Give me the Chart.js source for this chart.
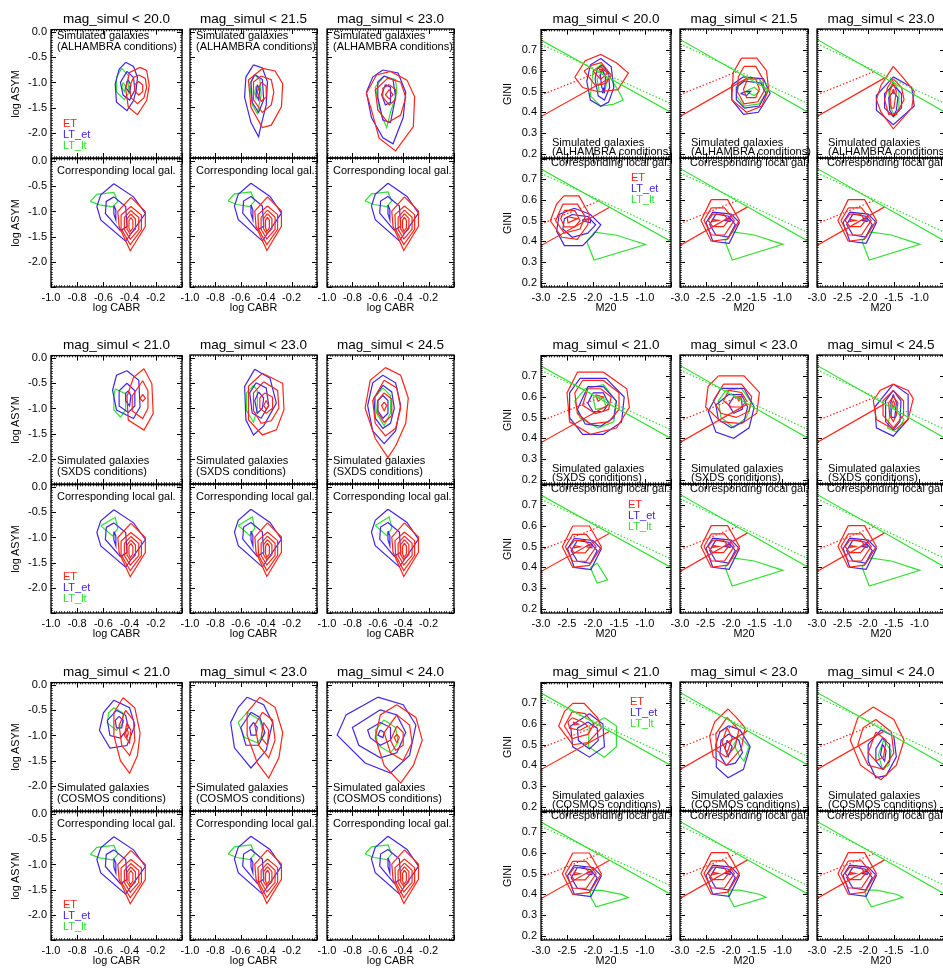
<!DOCTYPE html>
<html>
<head>
<meta charset="utf-8">
<script src="https://cdn.jsdelivr.net/npm/chart.js@4.4.1/dist/chart.umd.min.js"></script>
<style>
  body { margin: 0; background: #fff; width: 943px; height: 970px; overflow: hidden; position: relative;
         font-family: "Liberation Sans", Arial, sans-serif; }
  canvas { position: absolute; }
  .t { position: absolute; white-space: nowrap; color: #000; font-size: 11px; line-height: 12px; }
  .ttl { position: absolute; white-space: nowrap; color: #000; font-size: 13.5px; line-height: 16px; transform: translateX(-50%); }
  .ax { position: absolute; white-space: nowrap; color: #000; font-size: 10.8px; line-height: 12px; transform: translate(-50%, -50%); }
  .axr { position: absolute; white-space: nowrap; color: #000; font-size: 10.8px; line-height: 12px; transform: translate(-50%, -50%) rotate(-90deg); }
</style>
</head>
<body>
<script>
// ---- labels / axes ----
const magTitles = [
  ['mag_simul < 20.0', 'mag_simul < 21.5', 'mag_simul < 23.0'],
  ['mag_simul < 21.0', 'mag_simul < 23.0', 'mag_simul < 24.5'],
  ['mag_simul < 21.0', 'mag_simul < 23.0', 'mag_simul < 24.0']
];
const surveys = ['ALHAMBRA', 'SXDS', 'COSMOS'];
const classNames = ['ET', 'LT_et', 'LT_lt'];

const cabrRange = [-1.0, 0.0];
const asymRange = [-2.5, 0.05];
const m20Range = [-3.0, -0.5];
const giniRange = [0.18, 0.80];
const cabrTicks = [-1.0, -0.8, -0.6, -0.4, -0.2];
const asymTicks = [0.0, -0.5, -1.0, -1.5, -2.0];
const m20Ticks = [-3.0, -2.5, -2.0, -1.5, -1.0];
const giniTicks = [0.2, 0.3, 0.4, 0.5, 0.6, 0.7];

// classification lines in the M20-Gini plane (endpoints)
const mergerLine = [[-3.0, 0.75], [-0.5, 0.40]];
const mergerLineOld = [[-3.0, 0.729], [-0.5, 0.4415]];
const typeLine = [[-3.0, 0.38], [-1.68, 0.565]];
const typeLineOld = [[-3.0, 0.484], [-1.86, 0.598]];

// ---- contours: flat [x0,y0,x1,y1,...] polygons ----
// log CABR / log ASYM, simulated galaxies
const asymA1 = {
  ET: [
    [-0.32,-0.70, -0.27,-0.76, -0.25,-1.06, -0.27,-1.36, -0.34,-1.64, -0.41,-1.49, -0.43,-1.12, -0.40,-0.80],
    [-0.33,-0.85, -0.28,-0.92, -0.27,-1.10, -0.29,-1.30, -0.34,-1.42, -0.39,-1.30, -0.40,-1.08, -0.37,-0.90],
    [-0.33,-0.98, -0.30,-1.05, -0.30,-1.18, -0.33,-1.25, -0.36,-1.17, -0.36,-1.04]
  ],
  LTet: [
    [-0.43,-0.60, -0.37,-0.68, -0.34,-0.90, -0.35,-1.15, -0.37,-1.36, -0.42,-1.56, -0.50,-1.39, -0.51,-1.03, -0.48,-0.74],
    [-0.42,-0.78, -0.37,-0.90, -0.36,-1.15, -0.40,-1.35, -0.45,-1.25, -0.47,-1.00],
    [-0.41,-0.95, -0.39,-1.05, -0.40,-1.20, -0.43,-1.10, -0.42,-0.98]
  ],
  LTlt: [
    [-0.46,-0.72, -0.41,-0.86, -0.41,-1.22, -0.44,-1.34, -0.50,-1.19, -0.50,-0.89],
    [-0.45,-1.00, -0.43,-1.08, -0.44,-1.18, -0.46,-1.10]
  ]
};
const asymA2 = {
  ET: [
    [-0.43,-0.73, -0.33,-0.78, -0.27,-1.03, -0.28,-1.49, -0.36,-1.85, -0.43,-1.90, -0.52,-1.50, -0.54,-0.96],
    [-0.44,-0.88, -0.36,-0.95, -0.34,-1.20, -0.36,-1.45, -0.43,-1.60, -0.50,-1.35, -0.50,-1.00],
    [-0.44,-1.00, -0.40,-1.08, -0.40,-1.30, -0.44,-1.38, -0.47,-1.20]
  ],
  LTet: [
    [-0.50,-0.66, -0.43,-0.72, -0.39,-1.00, -0.40,-1.45, -0.44,-1.85, -0.46,-2.08, -0.52,-1.80, -0.57,-1.30, -0.56,-0.90],
    [-0.49,-0.85, -0.43,-0.95, -0.42,-1.35, -0.46,-1.60, -0.51,-1.40, -0.52,-1.00],
    [-0.47,-1.05, -0.45,-1.15, -0.46,-1.35, -0.48,-1.25]
  ],
  LTlt: [
    [-0.49,-0.86, -0.45,-0.95, -0.44,-1.25, -0.47,-1.62, -0.51,-1.45, -0.53,-1.05],
    [-0.48,-1.08, -0.47,-1.20, -0.48,-1.32, -0.49,-1.20]
  ]
};
const asymA3 = {
  ET: [
    [-0.61,-0.86, -0.50,-0.79, -0.37,-0.96, -0.31,-1.29, -0.32,-1.88, -0.46,-2.36, -0.59,-2.11, -0.65,-1.55, -0.69,-1.22],
    [-0.52,-0.92, -0.42,-1.00, -0.38,-1.30, -0.42,-1.65, -0.52,-1.80, -0.60,-1.55, -0.62,-1.15],
    [-0.51,-1.05, -0.46,-1.15, -0.46,-1.35, -0.51,-1.45, -0.56,-1.30, -0.56,-1.12],
    [-0.51,-1.15, -0.48,-1.25, -0.51,-1.33, -0.54,-1.25]
  ],
  LTet: [
    [-0.56,-0.76, -0.44,-0.82, -0.38,-1.20, -0.40,-1.70, -0.48,-2.22, -0.56,-2.10, -0.65,-1.70, -0.69,-1.20, -0.64,-0.90],
    [-0.55,-0.88, -0.48,-0.95, -0.46,-1.30, -0.50,-1.80, -0.56,-1.75, -0.60,-1.30, -0.60,-1.00],
    [-0.54,-1.05, -0.50,-1.10, -0.50,-1.40, -0.54,-1.45, -0.57,-1.25]
  ],
  LTlt: [
    [-0.55,-0.88, -0.46,-0.95, -0.45,-1.20, -0.50,-1.60, -0.53,-1.90, -0.58,-1.60, -0.62,-1.10]
  ]
};
const asymB1 = {
  ET: [
    [-0.29,-0.21, -0.23,-0.51, -0.22,-1.10, -0.29,-1.43, -0.41,-1.23, -0.42,-0.77, -0.37,-0.38],
    [-0.30,-0.45, -0.26,-0.65, -0.26,-1.00, -0.30,-1.20, -0.38,-1.05, -0.38,-0.75],
    [-0.30,-0.72, -0.28,-0.80, -0.30,-0.86, -0.32,-0.80]
  ],
  LTet: [
    [-0.42,-0.25, -0.33,-0.44, -0.32,-0.97, -0.37,-1.20, -0.50,-1.03, -0.53,-0.64, -0.50,-0.34],
    [-0.42,-0.50, -0.36,-0.65, -0.36,-0.95, -0.41,-1.08, -0.48,-0.95, -0.48,-0.65],
    [-0.41,-0.65, -0.39,-0.75, -0.40,-0.95, -0.43,-0.85, -0.43,-0.70]
  ],
  LTlt: [
    [-0.51,-0.61, -0.43,-0.71, -0.43,-1.03, -0.47,-1.17, -0.52,-1.03, -0.52,-0.75]
  ]
};
const asymB2 = {
  ET: [
    [-0.43,-0.31, -0.27,-0.51, -0.26,-1.03, -0.32,-1.43, -0.43,-1.53, -0.54,-1.23, -0.54,-0.57],
    [-0.42,-0.48, -0.31,-0.65, -0.30,-1.00, -0.36,-1.25, -0.44,-1.30, -0.50,-1.05, -0.50,-0.70],
    [-0.41,-0.70, -0.35,-0.78, -0.35,-1.00, -0.40,-1.10, -0.45,-1.00, -0.45,-0.80],
    [-0.40,-0.85, -0.38,-0.95, -0.40,-1.02, -0.42,-0.95]
  ],
  LTet: [
    [-0.49,-0.23, -0.37,-0.41, -0.32,-0.90, -0.42,-1.35, -0.50,-1.53, -0.56,-1.23, -0.57,-0.57],
    [-0.48,-0.50, -0.40,-0.60, -0.38,-0.95, -0.44,-1.20, -0.51,-1.10, -0.53,-0.70],
    [-0.46,-0.68, -0.42,-0.80, -0.43,-1.00, -0.47,-1.10, -0.49,-0.85]
  ],
  LTlt: [
    [-0.50,-0.55, -0.47,-0.65, -0.47,-1.00, -0.50,-1.28, -0.555,-1.05, -0.555,-0.70]
  ]
};
const asymB3 = {
  ET: [
    [-0.54,-0.20, -0.42,-0.35, -0.36,-0.80, -0.38,-1.30, -0.46,-1.75, -0.52,-1.98, -0.62,-1.60, -0.70,-1.00, -0.66,-0.45],
    [-0.55,-0.45, -0.45,-0.60, -0.42,-1.00, -0.46,-1.40, -0.54,-1.55, -0.62,-1.30, -0.64,-0.85],
    [-0.55,-0.70, -0.49,-0.82, -0.49,-1.15, -0.55,-1.28, -0.60,-1.10, -0.60,-0.85],
    [-0.55,-0.88, -0.53,-0.95, -0.55,-1.05, -0.57,-0.95]
  ],
  LTet: [
    [-0.56,-0.35, -0.46,-0.50, -0.42,-0.95, -0.46,-1.45, -0.55,-1.70, -0.64,-1.45, -0.68,-0.95, -0.64,-0.50],
    [-0.56,-0.55, -0.49,-0.68, -0.47,-1.00, -0.50,-1.30, -0.56,-1.40, -0.62,-1.20, -0.63,-0.80],
    [-0.56,-0.75, -0.52,-0.85, -0.52,-1.10, -0.56,-1.20, -0.60,-1.05, -0.60,-0.85]
  ],
  LTlt: [
    [-0.56,-0.60, -0.50,-0.75, -0.50,-1.10, -0.55,-1.35, -0.61,-1.10, -0.62,-0.78]
  ]
};
const asymC1 = {
  ET: [
    [-0.45,-0.25, -0.36,-0.45, -0.32,-0.95, -0.34,-1.40, -0.40,-1.75, -0.47,-1.50, -0.52,-1.00, -0.52,-0.55],
    [-0.43,-0.50, -0.37,-0.70, -0.36,-1.10, -0.40,-1.40, -0.46,-1.20, -0.48,-0.80],
    [-0.42,-0.75, -0.39,-0.90, -0.40,-1.15, -0.44,-1.00],
    [-0.42,-0.85, -0.41,-0.95, -0.42,-1.05, -0.43,-0.95]
  ],
  LTet: [
    [-0.52,-0.30, -0.40,-0.45, -0.36,-0.80, -0.42,-1.20, -0.55,-1.25, -0.63,-0.90, -0.60,-0.55],
    [-0.50,-0.50, -0.43,-0.60, -0.41,-0.85, -0.47,-1.05, -0.55,-1.00, -0.57,-0.70],
    [-0.48,-0.62, -0.45,-0.70, -0.46,-0.85, -0.50,-0.85, -0.51,-0.70]
  ],
  LTlt: [
    [-0.52,-0.45, -0.45,-0.55, -0.45,-0.75, -0.50,-0.90, -0.57,-0.75, -0.56,-0.55]
  ]
};
const asymC2 = {
  ET: [
    [-0.45,-0.25, -0.33,-0.45, -0.27,-0.95, -0.30,-1.45, -0.38,-1.85, -0.47,-1.55, -0.55,-1.00, -0.55,-0.55],
    [-0.43,-0.55, -0.35,-0.70, -0.33,-1.10, -0.38,-1.45, -0.46,-1.20, -0.49,-0.80],
    [-0.42,-0.75, -0.38,-0.90, -0.39,-1.20, -0.44,-1.05]
  ],
  LTet: [
    [-0.55,-0.25, -0.42,-0.40, -0.35,-0.75, -0.40,-1.30, -0.52,-1.65, -0.65,-1.25, -0.68,-0.75, -0.62,-0.45],
    [-0.52,-0.55, -0.45,-0.65, -0.41,-0.95, -0.46,-1.20, -0.56,-1.20, -0.60,-0.85],
    [-0.50,-0.75, -0.47,-0.85, -0.48,-1.00, -0.52,-1.00, -0.53,-0.85]
  ],
  LTlt: [
    [-0.55,-0.55, -0.45,-0.70, -0.42,-1.00, -0.47,-1.15, -0.57,-1.05, -0.62,-0.75]
  ]
};
const asymC3 = {
  ET: [
    [-0.45,-0.40, -0.30,-0.65, -0.25,-1.10, -0.32,-1.60, -0.42,-1.95, -0.55,-1.60, -0.62,-1.05, -0.58,-0.60],
    [-0.45,-0.60, -0.35,-0.80, -0.33,-1.15, -0.40,-1.50, -0.50,-1.35, -0.55,-0.95],
    [-0.45,-0.82, -0.40,-0.95, -0.40,-1.20, -0.46,-1.30, -0.50,-1.10],
    [-0.45,-0.98, -0.43,-1.05, -0.45,-1.15, -0.47,-1.05]
  ],
  LTet: [
    [-0.60,-0.25, -0.40,-0.40, -0.30,-0.80, -0.35,-1.40, -0.50,-1.75, -0.70,-1.55, -0.92,-1.00, -0.85,-0.60],
    [-0.58,-0.50, -0.45,-0.60, -0.38,-0.95, -0.45,-1.35, -0.58,-1.45, -0.75,-1.20, -0.80,-0.85],
    [-0.58,-0.75, -0.50,-0.85, -0.50,-1.10, -0.58,-1.20, -0.66,-1.05, -0.68,-0.90],
    [-0.58,-0.90, -0.55,-0.95, -0.56,-1.05, -0.60,-1.00]
  ],
  LTlt: [
    [-0.55,-0.70, -0.46,-0.85, -0.44,-1.15, -0.50,-1.35, -0.60,-1.20, -0.62,-0.90]
  ]
};
// log CABR / log ASYM, corresponding local galaxies
const asymLocalET = [
  [-0.39,-0.72, -0.28,-1.00, -0.28,-1.30, -0.395,-1.78, -0.48,-1.30, -0.49,-1.00],
  [-0.39,-0.90, -0.31,-1.07, -0.31,-1.36, -0.395,-1.66, -0.46,-1.36, -0.465,-1.07],
  [-0.39,-0.98, -0.33,-1.12, -0.33,-1.36, -0.395,-1.55, -0.44,-1.36, -0.44,-1.12],
  [-0.39,-1.05, -0.355,-1.15, -0.355,-1.35, -0.395,-1.45, -0.42,-1.35, -0.42,-1.15],
  [-0.39,-1.12, -0.375,-1.18, -0.375,-1.33, -0.395,-1.40, -0.405,-1.33, -0.405,-1.18]
];
const asymLocalLTet = [
  [-0.52,-0.45, -0.37,-0.71, -0.28,-1.04, -0.43,-1.59, -0.62,-1.17, -0.65,-0.90, -0.62,-0.67],
  [-0.52,-0.71, -0.43,-0.90, -0.42,-1.30, -0.47,-1.38, -0.585,-1.04, -0.578,-0.80],
  [-0.52,-0.88, -0.505,-0.97, -0.505,-1.17, -0.52,-1.05]
];
const asymLocalLTltWide = [
  [-0.70,-0.80, -0.65,-0.66, -0.52,-0.62, -0.49,-0.80, -0.53,-0.91, -0.63,-0.87]
];
const asymLocalLTltSmall = [
  [-0.62,-0.77, -0.51,-0.60, -0.49,-0.82, -0.53,-0.97, -0.56,-0.90]
];

// M20 / Gini, simulated galaxies
const giniA1 = {
  ET: [
    [-2.35,0.57, -2.15,0.65, -1.85,0.68, -1.55,0.64, -1.32,0.59, -1.52,0.51, -1.90,0.50, -2.20,0.52],
    [-2.17,0.60, -2.00,0.63, -1.84,0.64, -1.65,0.58, -1.75,0.54, -1.95,0.53],
    [-2.00,0.60, -1.85,0.62, -1.72,0.59, -1.85,0.56],
    [-1.88,0.61, -1.80,0.605, -1.84,0.59]
  ],
  LTet: [
    [-1.85,0.66, -1.65,0.62, -1.60,0.52, -1.70,0.45, -1.85,0.43, -2.05,0.46, -2.12,0.55, -2.05,0.63],
    [-1.82,0.63, -1.70,0.59, -1.68,0.52, -1.78,0.46, -1.90,0.48, -1.96,0.56, -1.92,0.61],
    [-1.82,0.61, -1.76,0.57, -1.78,0.50, -1.83,0.52, -1.86,0.58],
    [-1.80,0.52, -1.78,0.495, -1.82,0.495]
  ],
  LTlt: [
    [-2.00,0.60, -1.85,0.63, -1.70,0.58, -1.50,0.50, -1.42,0.46, -1.60,0.44, -1.85,0.43, -2.05,0.48],
    [-1.82,0.60, -1.72,0.56, -1.78,0.50, -1.88,0.50, -1.92,0.56]
  ]
};
const giniA2 = {
  ET: [
    [-1.80,0.66, -1.50,0.66, -1.31,0.60, -1.27,0.51, -1.40,0.43, -1.70,0.40, -1.99,0.46, -1.96,0.59],
    [-1.75,0.62, -1.52,0.62, -1.38,0.56, -1.36,0.50, -1.48,0.45, -1.75,0.44, -1.88,0.50, -1.86,0.57],
    [-1.68,0.56, -1.52,0.56, -1.45,0.51, -1.52,0.47, -1.70,0.47, -1.76,0.51]
  ],
  LTet: [
    [-1.76,0.57, -1.37,0.56, -1.24,0.49, -1.47,0.40, -1.76,0.39, -1.99,0.46, -1.99,0.53],
    [-1.74,0.55, -1.42,0.54, -1.32,0.49, -1.45,0.43, -1.74,0.42, -1.90,0.46, -1.90,0.52],
    [-1.82,0.49, -1.70,0.50, -1.62,0.50, -1.70,0.48]
  ],
  LTlt: [
    [-1.70,0.56, -1.45,0.56, -1.30,0.50, -1.45,0.44, -1.75,0.43, -1.90,0.48, -1.85,0.53],
    [-1.72,0.50, -1.55,0.52, -1.45,0.50, -1.55,0.48]
  ]
};
const giniA3 = {
  ET: [
    [-1.51,0.62, -1.30,0.56, -1.10,0.50, -1.15,0.42, -1.51,0.32, -1.75,0.40, -1.84,0.46, -1.75,0.53],
    [-1.51,0.56, -1.35,0.52, -1.30,0.46, -1.45,0.39, -1.60,0.39, -1.68,0.46, -1.62,0.52],
    [-1.51,0.54, -1.45,0.50, -1.50,0.42, -1.55,0.42, -1.58,0.50],
    [-1.51,0.51, -1.49,0.50, -1.51,0.49, -1.53,0.50]
  ],
  LTet: [
    [-1.51,0.57, -1.15,0.52, -1.10,0.43, -1.51,0.34, -1.84,0.41, -1.84,0.48],
    [-1.51,0.53, -1.35,0.49, -1.35,0.42, -1.51,0.38, -1.68,0.42, -1.68,0.49],
    [-1.51,0.50, -1.42,0.47, -1.45,0.41, -1.51,0.38, -1.58,0.41, -1.60,0.47]
  ],
  LTlt: [
    [-1.51,0.55, -1.40,0.50, -1.40,0.42, -1.48,0.38, -1.56,0.42, -1.60,0.50]
  ]
};
const giniB1 = {
  ET: [
    [-2.30,0.72, -1.80,0.72, -1.35,0.64, -1.30,0.55, -1.55,0.45, -2.05,0.42, -2.45,0.48, -2.50,0.62],
    [-2.20,0.68, -1.80,0.68, -1.50,0.62, -1.50,0.54, -1.70,0.48, -2.05,0.47, -2.30,0.52, -2.35,0.62],
    [-2.10,0.64, -1.85,0.64, -1.65,0.60, -1.70,0.54, -1.95,0.52, -2.20,0.56],
    [-1.95,0.61, -1.80,0.60, -1.90,0.58]
  ],
  LTet: [
    [-2.25,0.69, -1.75,0.69, -1.40,0.60, -1.45,0.48, -1.80,0.42, -2.20,0.42, -2.45,0.50, -2.45,0.62],
    [-2.10,0.65, -1.80,0.65, -1.55,0.58, -1.60,0.50, -1.85,0.46, -2.15,0.47, -2.30,0.54],
    [-2.00,0.62, -1.80,0.62, -1.70,0.57, -1.80,0.53, -2.00,0.53, -2.10,0.57]
  ],
  LTlt: [
    [-2.15,0.64, -1.80,0.66, -1.55,0.58, -1.60,0.48, -1.90,0.45, -2.25,0.50, -2.35,0.58],
    [-2.00,0.60, -1.80,0.60, -1.75,0.55, -1.95,0.54]
  ]
};
const giniB2 = {
  ET: [
    [-2.25,0.70, -1.75,0.70, -1.45,0.62, -1.50,0.52, -1.80,0.47, -2.20,0.48, -2.50,0.55, -2.45,0.65],
    [-2.15,0.66, -1.80,0.66, -1.60,0.60, -1.65,0.53, -1.90,0.50, -2.20,0.52, -2.35,0.58],
    [-2.05,0.63, -1.80,0.62, -1.70,0.58, -1.80,0.55, -2.00,0.55, -2.15,0.58],
    [-1.90,0.60, -1.80,0.60, -1.85,0.58]
  ],
  LTet: [
    [-2.20,0.64, -1.75,0.64, -1.55,0.55, -1.65,0.45, -1.95,0.40, -2.30,0.43, -2.45,0.53],
    [-2.05,0.61, -1.80,0.61, -1.68,0.55, -1.75,0.48, -2.00,0.45, -2.25,0.49, -2.30,0.56],
    [-1.95,0.60, -1.80,0.59, -1.78,0.54, -1.95,0.52, -2.05,0.56]
  ],
  LTlt: [
    [-2.10,0.63, -1.80,0.64, -1.60,0.57, -1.70,0.50, -1.95,0.45, -2.20,0.50, -2.25,0.58]
  ]
};
const giniB3 = {
  ET: [
    [-1.51,0.66, -1.22,0.63, -1.12,0.59, -1.22,0.49, -1.48,0.44, -1.84,0.49, -1.90,0.58, -1.77,0.63],
    [-1.51,0.63, -1.31,0.58, -1.31,0.51, -1.51,0.45, -1.71,0.51, -1.71,0.58],
    [-1.51,0.60, -1.42,0.57, -1.45,0.51, -1.51,0.48, -1.58,0.51, -1.60,0.57],
    [-1.51,0.58, -1.48,0.565, -1.51,0.55, -1.54,0.565]
  ],
  LTet: [
    [-1.51,0.66, -1.22,0.61, -1.22,0.49, -1.51,0.41, -1.84,0.45, -1.87,0.55],
    [-1.51,0.63, -1.36,0.58, -1.38,0.48, -1.51,0.44, -1.66,0.48, -1.66,0.58],
    [-1.51,0.61, -1.45,0.57, -1.48,0.50, -1.55,0.50, -1.56,0.57]
  ],
  LTlt: [
    [-1.51,0.56, -1.42,0.52, -1.30,0.49, -1.45,0.43, -1.62,0.45, -1.58,0.51]
  ]
};
const giniC1 = {
  ET: [
    [-2.39,0.70, -2.17,0.70, -1.91,0.63, -1.84,0.58, -2.10,0.51, -2.39,0.50, -2.66,0.59, -2.55,0.66],
    [-2.40,0.66, -2.15,0.65, -1.98,0.60, -2.10,0.55, -2.40,0.53, -2.55,0.59],
    [-2.40,0.63, -2.20,0.61, -2.10,0.59, -2.25,0.57, -2.45,0.58, -2.48,0.61],
    [-2.38,0.61, -2.28,0.60, -2.36,0.595]
  ],
  LTet: [
    [-2.07,0.65, -1.81,0.60, -1.78,0.49, -2.07,0.44, -2.39,0.49, -2.43,0.59],
    [-2.10,0.61, -1.92,0.58, -1.90,0.52, -2.07,0.48, -2.28,0.52, -2.30,0.58]
  ],
  LTlt: [
    [-1.78,0.63, -1.55,0.59, -1.55,0.49, -1.78,0.44, -2.09,0.49, -2.07,0.59]
  ]
};
const giniC2 = {
  ET: [
    [-2.06,0.67, -1.90,0.63, -1.73,0.58, -1.80,0.48, -2.09,0.40, -2.35,0.44, -2.42,0.54, -2.32,0.61],
    [-2.08,0.63, -1.85,0.57, -1.92,0.49, -2.10,0.44, -2.28,0.47, -2.30,0.55],
    [-2.08,0.58, -1.98,0.53, -2.08,0.46, -2.18,0.51]
  ],
  LTet: [
    [-2.05,0.59, -1.83,0.57, -1.63,0.49, -1.76,0.38, -2.06,0.34, -2.29,0.39, -2.30,0.50, -2.22,0.56],
    [-2.05,0.55, -1.85,0.52, -1.78,0.46, -1.92,0.41, -2.10,0.40, -2.22,0.45, -2.20,0.52],
    [-2.08,0.52, -1.98,0.49, -2.06,0.44, -2.12,0.48]
  ],
  LTlt: [
    [-1.85,0.54, -1.65,0.49, -1.75,0.42, -1.85,0.45, -1.95,0.50]
  ]
};
const giniC3 = {
  ET: [
    [-1.90,0.68, -1.50,0.62, -1.30,0.52, -1.45,0.40, -1.75,0.33, -2.15,0.40, -2.35,0.52, -2.20,0.63],
    [-1.85,0.62, -1.55,0.56, -1.50,0.46, -1.70,0.38, -2.00,0.40, -2.20,0.50, -2.10,0.58],
    [-1.85,0.56, -1.65,0.52, -1.70,0.44, -1.85,0.42, -2.00,0.46]
  ],
  LTet: [
    [-1.75,0.57, -1.50,0.54, -1.45,0.44, -1.65,0.35, -1.85,0.34, -2.00,0.42, -2.00,0.50],
    [-1.72,0.53, -1.58,0.50, -1.58,0.42, -1.72,0.38, -1.85,0.42, -1.85,0.48],
    [-1.72,0.50, -1.65,0.47, -1.68,0.42, -1.76,0.45]
  ],
  LTlt: [
    [-1.70,0.52, -1.55,0.47, -1.60,0.40, -1.72,0.38, -1.80,0.45]
  ]
};
// M20 / Gini, corresponding local galaxies
const giniLocalET = [
  [-2.39,0.60, -2.07,0.60, -1.84,0.50, -2.07,0.41, -2.39,0.40, -2.59,0.50],
  [-2.39,0.56, -2.13,0.56, -1.94,0.50, -2.13,0.43, -2.39,0.43, -2.53,0.50],
  [-2.36,0.53, -2.15,0.53, -2.05,0.50, -2.15,0.47, -2.36,0.47, -2.45,0.50],
  [-2.36,0.505, -2.25,0.50, -2.36,0.495]
];
const giniLocalLTet = [
  [-2.36,0.54, -2.00,0.53, -1.84,0.49, -2.04,0.39, -2.36,0.40, -2.49,0.49],
  [-2.30,0.53, -2.05,0.52, -1.92,0.48, -2.05,0.42, -2.30,0.43, -2.42,0.48],
  [-2.12,0.505, -2.02,0.51, -2.02,0.495, -2.12,0.50]
];
// first ALHAMBRA column sits further left
const giniLocalETWide = [
  [-2.56,0.62, -2.27,0.62, -2.07,0.53, -2.10,0.48, -2.30,0.41, -2.60,0.42, -2.82,0.50, -2.70,0.58],
  [-2.58,0.58, -2.30,0.58, -2.15,0.52, -2.25,0.46, -2.55,0.44, -2.72,0.50],
  [-2.55,0.55, -2.35,0.55, -2.25,0.50, -2.35,0.47, -2.55,0.47, -2.62,0.51],
  [-2.50,0.52, -2.30,0.51, -2.48,0.49]
];
const giniLocalLTetWide = [
  [-2.36,0.56, -2.05,0.53, -1.85,0.48, -2.00,0.43, -2.20,0.38, -2.55,0.38, -2.70,0.45, -2.65,0.53],
  [-2.40,0.53, -2.10,0.52, -1.95,0.48, -2.10,0.44, -2.40,0.42, -2.58,0.46, -2.55,0.51],
  [-2.20,0.505, -2.05,0.51, -2.05,0.49, -2.20,0.50]
];
const giniLocalLTltBig = [
  [-2.12,0.40, -1.97,0.445, -1.55,0.43, -0.99,0.385, -1.98,0.31]
];
const giniLocalLTltSmall = [
  [-2.05,0.40, -1.92,0.42, -1.72,0.34, -1.92,0.325, -2.00,0.37]
];
const giniLocalLTltMid = [
  [-2.05,0.42, -1.84,0.42, -1.45,0.40, -1.32,0.385, -1.94,0.34, -2.05,0.39]
];

// which contour set goes in which panel [group][column]
const asymSim = [[asymA1, asymA2, asymA3], [asymB1, asymB2, asymB3], [asymC1, asymC2, asymC3]];
const giniSim = [[giniA1, giniA2, giniA3], [giniB1, giniB2, giniB3], [giniC1, giniC2, giniC3]];
const asymLocalGreen = [
  [asymLocalLTltWide, asymLocalLTltWide, asymLocalLTltWide],
  [asymLocalLTltSmall, asymLocalLTltSmall, asymLocalLTltSmall],
  [asymLocalLTltWide, asymLocalLTltWide, asymLocalLTltWide]
];
const giniLocalRed = [
  [giniLocalETWide, giniLocalET, giniLocalET],
  [giniLocalET, giniLocalET, giniLocalET],
  [giniLocalET, giniLocalET, giniLocalET]
];
const giniLocalBlue = [
  [giniLocalLTetWide, giniLocalLTet, giniLocalLTet],
  [giniLocalLTet, giniLocalLTet, giniLocalLTet],
  [giniLocalLTet, giniLocalLTet, giniLocalLTet]
];
const giniLocalGreen = [
  [giniLocalLTltBig, giniLocalLTltBig, giniLocalLTltBig],
  [giniLocalLTltSmall, giniLocalLTltBig, giniLocalLTltBig],
  [giniLocalLTltMid, giniLocalLTltMid, giniLocalLTltMid]
];

// ---- layout ----
const ML = 40, MT = 10, MR = 2, MB = 22;
const colLeft = [51, 190, 327, 541, 680, 817];
const colWidth = [131, 127, 127, 130, 128, 128];
const groupTop = [29, 355, 682];
const PH = 129;
const RED = '#ff2418', BLUE = '#4226e6', GREEN = '#30e030';
const FONT = 'Liberation Sans, Arial, sans-serif';

function poly(flat) {
  const pts = [];
  for (let i = 0; i < flat.length; i += 2) pts.push({ x: flat[i], y: flat[i + 1] });
  pts.push({ x: flat[0], y: flat[1] });
  return pts;
}

function lineSet(seg, color, dashed) {
  return {
    data: seg.map(p => ({ x: p[0], y: p[1] })),
    borderColor: color, borderWidth: 1.2, borderDash: dashed ? [1.5, 2] : [],
    showLine: true, pointRadius: 0, fill: false
  };
}

function contourSets(et, ltet, ltlt) {
  const out = [];
  [[et, RED], [ltet, BLUE], [ltlt, GREEN]].forEach(([list, col]) => {
    list.forEach(c => out.push({
      data: poly(c), borderColor: col, borderWidth: 1.2,
      showLine: true, pointRadius: 0, fill: false
    }));
  });
  return out;
}

// inward IDL-style ticks + frame
function framePlugin(xTicks, yTicks) {
  return {
    id: 'frame',
    afterDatasetsDraw(chart) {
      const { ctx, chartArea: a, scales } = chart;
      const sx = scales.x, sy = scales.y;
      ctx.save();
      ctx.strokeStyle = '#000';
      const mark = (scale, step, len, horiz) => {
        const lo = Math.min(scale.min, scale.max), hi = Math.max(scale.min, scale.max);
        for (let k = Math.ceil(lo / step - 1e-6); k * step <= hi + 1e-9; k++) {
          const p = Math.round(scale.getPixelForValue(k * step)) + 0.5;
          ctx.beginPath();
          if (horiz) {
            ctx.moveTo(p, a.bottom); ctx.lineTo(p, a.bottom - len);
            ctx.moveTo(p, a.top); ctx.lineTo(p, a.top + len);
          } else {
            ctx.moveTo(a.left, p); ctx.lineTo(a.left + len, p);
            ctx.moveTo(a.right, p); ctx.lineTo(a.right - len, p);
          }
          ctx.stroke();
        }
      };
      const xs = Math.abs(xTicks[1] - xTicks[0]), ys = Math.abs(yTicks[1] - yTicks[0]);
      ctx.lineWidth = 0.8;
      mark(sx, xs / 10, 1.8, true);
      mark(sy, ys / 10, 1.8, false);
      ctx.lineWidth = 1;
      mark(sx, xs, 5, true);
      mark(sy, ys, 5, false);
      ctx.lineWidth = 1.3;
      ctx.strokeRect(a.left, a.top, a.right - a.left, a.bottom - a.top);
      ctx.restore();
    }
  };
}

function makePanel(g, c, sub, datasets) {
  const gini = c >= 3;
  const pw = colWidth[c];
  const cv = document.createElement('canvas');
  cv.width = ML + pw + MR;
  cv.height = MT + PH + MB;
  cv.style.left = (colLeft[c] - ML) + 'px';
  cv.style.top = (groupTop[g] + sub * PH - MT) + 'px';
  document.body.appendChild(cv);
  const showY = c === 0 || c === 3, showX = sub === 1;
  const xr = gini ? m20Range : cabrRange, yr = gini ? giniRange : asymRange;
  const xt = gini ? m20Ticks : cabrTicks, yt = gini ? giniTicks : asymTicks;
  new Chart(cv, {
    type: 'scatter',
    data: { datasets },
    options: {
      responsive: false, animation: false, events: [], devicePixelRatio: 1,
      layout: { padding: { top: MT, right: MR, left: 0, bottom: 0 } },
      plugins: { legend: { display: false }, tooltip: { enabled: false }, title: { display: false } },
      scales: {
        x: {
          type: 'linear', min: xr[0], max: xr[1], bounds: 'data',
          afterBuildTicks: s => { s.ticks = xt.map(v => ({ value: v })); },
          afterFit: s => { s.height = MB; },
          grid: { display: false, drawTicks: false }, border: { display: false },
          ticks: { display: showX, autoSkip: false, maxRotation: 0, padding: 4, color: '#000',
                   font: { family: FONT, size: 11 }, callback: v => v.toFixed(1) }
        },
        y: {
          type: 'linear', min: yr[0], max: yr[1], bounds: 'data',
          afterBuildTicks: s => { s.ticks = yt.map(v => ({ value: v })); },
          afterFit: s => { s.width = ML; },
          grid: { display: false, drawTicks: false }, border: { display: false },
          ticks: { display: showY, autoSkip: false, padding: 4, color: '#000',
                   font: { family: FONT, size: 11 }, callback: v => v.toFixed(1) }
        }
      }
    },
    plugins: [framePlugin(xt, yt)]
  });
}

function addText(cls, txt, x, y, color) {
  const d = document.createElement('div');
  d.className = cls;
  d.textContent = txt;
  d.style.left = x + 'px';
  d.style.top = y + 'px';
  if (color) d.style.color = color;
  document.body.appendChild(d);
}

// ---- build all panels ----
for (let g = 0; g < 3; g++) {
  for (let c = 0; c < 6; c++) {
    const k = c % 3;
    if (c < 3) {
      const s = asymSim[g][k];
      makePanel(g, c, 0, contourSets(s.ET, s.LTet, s.LTlt));
      makePanel(g, c, 1, contourSets(asymLocalET, asymLocalLTet, asymLocalGreen[g][k]));
    } else {
      const lines = () => [lineSet(mergerLine, GREEN, false), lineSet(mergerLineOld, GREEN, true),
                           lineSet(typeLine, RED, false), lineSet(typeLineOld, RED, true)];
      const s = giniSim[g][k];
      makePanel(g, c, 0, lines().concat(contourSets(s.ET, s.LTet, s.LTlt)));
      makePanel(g, c, 1, lines().concat(contourSets(giniLocalRed[g][k], giniLocalBlue[g][k], giniLocalGreen[g][k])));
    }
  }
}

// ---- text ----
for (let g = 0; g < 3; g++) {
  const T = groupTop[g], D = T + PH, B = T + 2 * PH;
  for (let c = 0; c < 6; c++) {
    const pl = colLeft[c], cx = pl + colWidth[c] / 2;
    addText('ttl', magTitles[g][c % 3], cx, T - 18);
    addText('ax', c < 3 ? 'log CABR' : 'M20', cx, B + 20);
    if (c === 0 || c === 3) {
      const ax = c === 0 ? 15 : 507;
      const lbl = c === 0 ? 'log ASYM' : 'GINI';
      addText('axr', lbl, ax, T + PH / 2);
      addText('axr', lbl, ax, D + PH / 2);
    }
    const cond = '(' + surveys[g] + ' conditions)';
    if (c < 3) {
      if (g === 0) {
        addText('t', 'Simulated galaxies', pl + 6, T + 0);
        addText('t', cond, pl + 6, T + 11);
      } else {
        addText('t', 'Simulated galaxies', pl + 6, T + 99);
        addText('t', cond, pl + 6, T + 110);
      }
      addText('t', 'Corresponding local gal.', pl + 6, D + 6);
    } else {
      addText('t', 'Simulated galaxies', pl + 11, T + 107);
      addText('t', cond, pl + 11, T + 115.5);
      addText('t', 'Corresponding local gal.', pl + 10, D - 2.5);
    }
  }
}
// class legends
const legendSpots = [
  [63, groupTop[0] + 88], [63, groupTop[1] + PH + 86], [63, groupTop[2] + PH + 87],
  [631, groupTop[0] + PH + 13], [628, groupTop[1] + PH + 14], [630, groupTop[2] + 13]
];
legendSpots.forEach(([x, y]) => {
  [RED, BLUE, GREEN].forEach((col, i) => addText('t', classNames[i], x, y + i * 11, col));
});
</script>
</body>
</html>
